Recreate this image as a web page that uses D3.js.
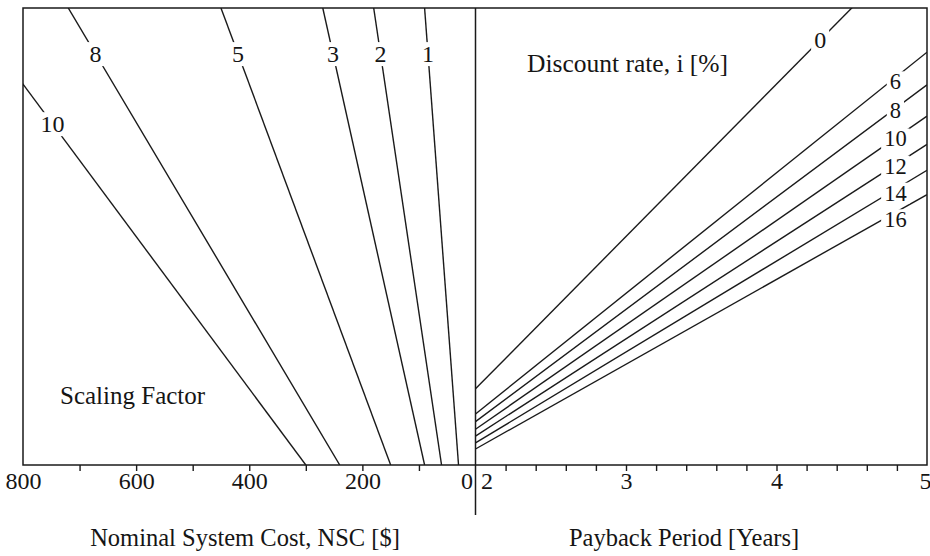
<!DOCTYPE html>
<html>
<head>
<meta charset="utf-8">
<script src="https://cdn.jsdelivr.net/npm/d3@7"></script>
<style>
  body { margin: 0; background: #fff; }
  svg { display: block; }
  text { font-family: "Liberation Serif", "Times New Roman", serif; fill: #151515; }
</style>
</head>
<body>
<div id="chart"></div>
<script>
// Scaling factor lines (left panel): NSC at the bottom and top of the hidden worth axis
const scalingFactors = [1, 2, 3, 5, 8, 10];
const nscAtLow = [30, 60, 90, 150, 240, 300];
const nscAtHigh = [90, 180, 270, 450, 720, 900];
const worthRange = [30, 90];

// Discount rate lines (right panel), read at both ends of the payback axis
const periods = [2, 5];
const discountRates = [0, 6, 8, 10, 12, 14, 16];
const worthRate0 = [40, 100];
const worthRate6 = [36.7, 84.2];
const worthRate8 = [35.7, 79.9];
const worthRate10 = [34.7, 75.8];
const worthRate12 = [33.8, 72.1];
const worthRate14 = [32.9, 68.7];
const worthRate16 = [32.1, 65.5];

// Axis ticks
const nscTicks = [800, 700, 600, 500, 400, 300, 200, 100, 0];
const nscLabels = [800, 600, 400, 200, 0];
const yearTicks = [2, 2.2, 2.4, 2.6, 2.8, 3, 3.2, 3.4, 3.6, 3.8, 4, 4.2, 4.4, 4.6, 4.8, 5];
const yearLabels = [2, 3, 4, 5];

const width = 930;
const height = 556;
const frame = { left: 23, right: 927, top: 8, bottom: 465 };
const mid = 475.5;
const ink = "#1a1a1a";

const svg = d3.select("#chart")
    .append("svg")
    .attr("width", width)
    .attr("height", height);

// Scales
const xLeft = d3.scaleLinear().domain([800, 0]).range([frame.left, mid]);
const xRight = d3.scaleLinear().domain([2, 5]).range([mid, frame.right]);
const yWorth = d3.scaleLinear().domain(worthRange).range([frame.bottom, frame.top]);

// Clip paths for the two panels
const defs = svg.append("defs");
defs.append("clipPath").attr("id", "clipLeft")
    .append("rect")
    .attr("x", frame.left).attr("y", frame.top)
    .attr("width", mid - frame.left).attr("height", frame.bottom - frame.top);
defs.append("clipPath").attr("id", "clipRight")
    .append("rect")
    .attr("x", mid).attr("y", frame.top)
    .attr("width", frame.right - mid).attr("height", frame.bottom - frame.top);

// Left panel lines
const sfData = scalingFactors.map((sf, i) => ({
    sf: sf,
    points: [[nscAtLow[i], worthRange[0]], [nscAtHigh[i], worthRange[1]]]
}));

const leftLine = d3.line()
    .x(d => xLeft(d[0]))
    .y(d => yWorth(d[1]));

svg.append("g")
    .attr("clip-path", "url(#clipLeft)")
    .selectAll("path")
    .data(sfData)
    .enter()
    .append("path")
    .attr("d", d => leftLine(d.points))
    .attr("fill", "none")
    .attr("stroke", ink)
    .attr("stroke-width", 1.4);

// Right panel lines
const rateValues = [worthRate0, worthRate6, worthRate8, worthRate10, worthRate12, worthRate14, worthRate16];
const rateData = discountRates.map((r, i) => ({
    rate: r,
    points: periods.map((p, j) => [p, rateValues[i][j]])
}));

const rightLine = d3.line()
    .x(d => xRight(d[0]))
    .y(d => yWorth(d[1]));

svg.append("g")
    .attr("clip-path", "url(#clipRight)")
    .selectAll("path")
    .data(rateData)
    .enter()
    .append("path")
    .attr("d", d => rightLine(d.points))
    .attr("fill", "none")
    .attr("stroke", ink)
    .attr("stroke-width", 1.4);

// Labels on lines, with a white box that breaks the line
function lineLabel(x, y, txt, size, padY) {
    const g = svg.append("g");
    const t = g.append("text")
        .attr("x", x)
        .attr("y", y)
        .attr("dy", "0.35em")
        .attr("text-anchor", "middle")
        .attr("font-size", size)
        .text(txt);
    const b = t.node().getBBox();
    g.insert("rect", "text")
        .attr("x", b.x - 3)
        .attr("y", b.y + padY)
        .attr("width", b.width + 6)
        .attr("height", b.height - 2 * padY)
        .attr("fill", "#fff");
}

sfData.forEach(d => {
    const q = d.sf === 10 ? 74.8 : 84;
    const nsc = d3.scaleLinear().domain(worthRange).range([d.points[0][0], d.points[1][0]])(q);
    lineLabel(xLeft(nsc), yWorth(q), d.sf, 24, 1);
});

// small downward nudges so the right-hand labels sit as in the original
const rateLabelShift = [0, 4, 1.5, 0.5, 1, 3.5, 7];
rateData.forEach((d, i) => {
    const p = d.rate === 0 ? 4.29 : 4.79;
    const worthAt = d3.scaleLinear().domain(periods).range(d.points.map(v => v[1]));
    lineLabel(xRight(p), yWorth(worthAt(p)) + rateLabelShift[i], d.rate,
        d.rate === 0 ? 24 : 22.5, d.rate === 0 ? 1 : 2);
});

// Frame
svg.append("rect")
    .attr("x", frame.left)
    .attr("y", frame.top)
    .attr("width", frame.right - frame.left)
    .attr("height", frame.bottom - frame.top)
    .attr("fill", "none")
    .attr("stroke", ink)
    .attr("stroke-width", 1.5);

// Divider between the panels
svg.append("line")
    .attr("x1", mid).attr("x2", mid)
    .attr("y1", frame.top).attr("y2", 515)
    .attr("stroke", ink)
    .attr("stroke-width", 1.5);

// Axes
const leftAxis = svg.append("g")
    .attr("transform", `translate(0, ${frame.bottom})`)
    .call(d3.axisBottom(xLeft)
        .tickValues(nscTicks)
        .tickSize(6)
        .tickSizeOuter(0)
        .tickPadding(1)
        .tickFormat(d => nscLabels.includes(d) ? d : ""));

const rightAxis = svg.append("g")
    .attr("transform", `translate(0, ${frame.bottom})`)
    .call(d3.axisBottom(xRight)
        .tickValues(yearTicks)
        .tickSize(6)
        .tickSizeOuter(0)
        .tickPadding(1)
        .tickFormat(d => yearLabels.includes(d) ? d : ""));

[leftAxis, rightAxis].forEach(a => {
    a.select(".domain").remove();
    a.selectAll("line").attr("stroke", ink).attr("stroke-width", 1.4);
    a.selectAll("text")
        .attr("font-size", 24)
        .attr("font-family", "Liberation Serif, serif")
        .attr("fill", "#151515");
});

leftAxis.selectAll(".tick").filter(d => d === 0)
    .select("text").attr("text-anchor", "end").attr("dx", -3);
rightAxis.selectAll(".tick").filter(d => d === 2)
    .select("text").attr("text-anchor", "start").attr("dx", 5);
rightAxis.selectAll(".tick").filter(d => d === 5)
    .select("text").attr("dx", -2);
leftAxis.selectAll(".tick").filter(d => d === 800 || d === 0).select("line").remove();
rightAxis.selectAll(".tick").filter(d => d === 2 || d === 5).select("line").remove();

// Titles
svg.append("text")
    .attr("x", 245).attr("y", 546)
    .attr("text-anchor", "middle")
    .attr("font-size", 24.5)
    .text("Nominal System Cost, NSC [$]");

svg.append("text")
    .attr("x", 684).attr("y", 546)
    .attr("text-anchor", "middle")
    .attr("font-size", 24.5)
    .text("Payback Period [Years]");

svg.append("text")
    .attr("x", 527).attr("y", 72)
    .attr("font-size", 25.5)
    .text("Discount rate, i [%]");

svg.append("text")
    .attr("x", 60).attr("y", 404)
    .attr("font-size", 25)
    .text("Scaling Factor");
</script>
</body>
</html>
